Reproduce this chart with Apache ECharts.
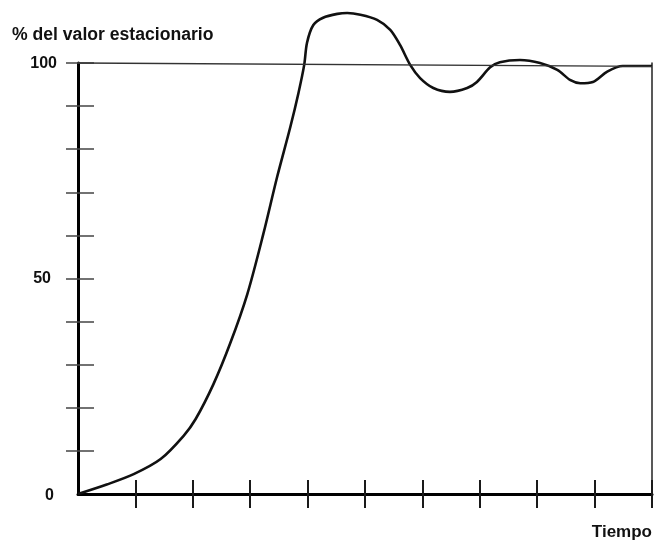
<!DOCTYPE html>
<html>
<head>
<meta charset="utf-8">
<script src="https://cdn.jsdelivr.net/npm/echarts@6/dist/echarts.min.js"></script>
<style>
  html, body { margin: 0; padding: 0; background: #fff; }
  #chart { width: 656px; height: 544px; }
</style>
</head>
<body>
<div id="chart"></div>
<script>
// Step response: time (axis units) and % of the steady-state value
const tiempo = [0, 0.5, 0.97, 1.44, 1.84, 2.05, 2.36, 2.65, 2.95, 3.23, 3.47, 3.7, 3.84, 3.94, 3.99, 4.1, 4.27, 4.52, 4.69, 4.92, 5.21, 5.44, 5.61, 5.79, 5.96, 6.19, 6.48, 6.78, 6.95, 7.18, 7.35, 7.7, 8.05, 8.35, 8.58, 8.75, 8.97, 9.22, 9.49, 10];
const respuesta = [0, 2.2, 4.6, 8.1, 13.5, 17.4, 25.5, 34.9, 46.4, 60.4, 73.6, 85.2, 93, 99.5, 104.7, 108.8, 110.5, 111.4, 111.6, 111.2, 110, 107.7, 104.2, 99.5, 96.5, 94.2, 93.3, 94.2, 95.6, 99, 100.2, 100.7, 100, 98.4, 96, 95.3, 95.6, 98, 99.3, 99.3];

// Axis marks
const xTicks = [1, 2, 3, 4, 5, 6, 7, 8, 9, 10];
const yTicks = [10, 20, 30, 40, 50, 60, 70, 80, 90, 100];
const yLabels = [0, 50, 100];

// Steady-state reference line (end points)
const referencia = [[0, 100], [10, 99.2]];

const FONT = '"Liberation Sans", Arial, sans-serif';

const chart = echarts.init(document.getElementById('chart'), null, { renderer: 'canvas' });

const gridBox = { left: 78, right: 4, top: 63, bottom: 50, containLabel: false };
const tickGray = { color: '#444', width: 1.5 };
const tickDark = { color: '#1a1a1a', width: 2 };
const hiddenLine = { show: true, lineStyle: { color: 'rgba(0,0,0,0)', width: 0 } };

function xAxisDef(gridIndex, inside, line) {
  return {
    gridIndex, type: 'value', min: 0, max: 10, interval: 1, position: 'bottom',
    splitLine: { show: false }, axisLabel: { show: false },
    axisLine: line,
    axisTick: { show: true, inside, length: 14, customValues: xTicks, lineStyle: tickDark }
  };
}
function yAxisDef(gridIndex, inside, length, line, label) {
  return {
    gridIndex, type: 'value', min: 0, max: 100, interval: 10, position: 'left',
    splitLine: { show: false },
    axisLine: line,
    axisTick: { show: true, inside, length, customValues: yTicks, lineStyle: tickGray },
    axisLabel: label
  };
}

const labelText = { color: '#111', fontFamily: FONT, fontWeight: 'bold', fontSize: 16 };
const curva = tiempo.map((t, i) => [t, respuesta[i]]);

chart.setOption({
  animation: false,
  backgroundColor: '#fff',
  // two grids share one box: one carries the outer half of each tick, the other the inner half
  grid: [Object.assign({}, gridBox), Object.assign({}, gridBox)],
  xAxis: [
    xAxisDef(0, false, { show: true, lineStyle: { color: '#000', width: 3 } }),
    xAxisDef(1, true, hiddenLine)
  ],
  yAxis: [
    yAxisDef(0, false, 12, { show: true, lineStyle: { color: '#000', width: 3 } }, {
      show: true, customValues: yLabels, margin: 21,
      formatter: v => (v === 0 ? '{cero|' + v + '}' : v === 50 ? '{medio|' + v + '}' : '{tope|' + v + '}'),
      rich: {
        cero: Object.assign({ padding: [4, 3, 0, 0] }, labelText),
        medio: Object.assign({ padding: [0, 6, 0, 0] }, labelText),
        tope: Object.assign({ padding: [1, 0, 0, 0] }, labelText)
      }
    }),
    yAxisDef(1, true, 16, hiddenLine, { show: false }),
    {
      gridIndex: 0, type: 'value', min: 0, max: 100, position: 'right',
      splitLine: { show: false }, axisTick: { show: false }, axisLabel: { show: false },
      axisLine: { show: true, lineStyle: { color: '#222', width: 1.5 } }
    }
  ],
  graphic: [
    {
      type: 'text', left: 12, top: 26,
      style: { text: '% del valor estacionario', fill: '#111', font: 'bold 17.6px ' + FONT }
    },
    {
      type: 'text', right: 4, top: 524,
      style: { text: 'Tiempo', fill: '#111', font: 'bold 17px ' + FONT }
    }
  ],
  series: [
    {
      type: 'line',
      xAxisIndex: 0, yAxisIndex: 0,
      data: curva,
      smooth: 0.3,
      clip: false,
      showSymbol: false,
      lineStyle: { color: '#111', width: 2.6 },
      markLine: {
        silent: true,
        symbol: ['none', 'none'],
        label: { show: false },
        lineStyle: { color: '#333', width: 1.3, type: 'solid' },
        data: [[{ coord: referencia[0] }, { coord: referencia[1] }]]
      }
    },
    {
      // invisible copy that keeps the second grid's axes populated
      type: 'line',
      xAxisIndex: 1, yAxisIndex: 1,
      data: curva,
      silent: true,
      showSymbol: false,
      lineStyle: { opacity: 0 }
    }
  ]
});
</script>
</body>
</html>
